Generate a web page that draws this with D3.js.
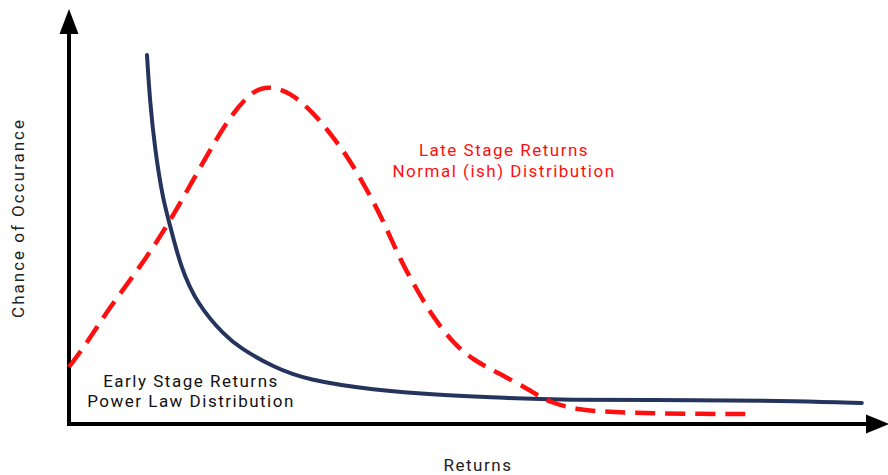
<!DOCTYPE html>
<html>
<head>
<meta charset="utf-8">
<script src="https://cdn.jsdelivr.net/npm/d3@7"></script>
<style>
  html, body { margin: 0; padding: 0; background: #fff; }
  svg { display: block; }
  text { font-family: Roboto, "Noto Sans", sans-serif; letter-spacing: 1.5px; }
</style>
</head>
<body>
<svg id="chart" width="888" height="475"></svg>
<script>
// ---- Data (returns on x: 0..100, chance of occurrence on y: 0..100) ----
const earlyReturns = [9.75, 10.1, 10.75, 11.75, 12.6, 13.9, 16, 19.5, 21.4, 25.5, 29.75, 38, 46.4, 54.75, 61, 78.9, 91.4, 99.1];
const earlyChance  = [92.75, 81.5, 69, 56.5, 50.5, 40, 30.5, 22.5, 19.5, 14.75, 11.5, 9, 7.75, 7, 6.5, 6.5, 6.25, 5.75];

const lateReturns = [0, 2.25, 5.1, 8.9, 12.6, 16.4, 20.1, 23, 25.1, 27.6, 30.5, 33, 35.1, 37.25, 39.25, 41.4, 43.5, 45.5, 48, 50.5, 53.9, 57.6, 60.1, 63.9, 67.6, 71.4, 78.9, 85.1];
const lateChance  = [14.75, 20.75, 29.75, 39.75, 51, 64.75, 77.5, 84, 85, 83.5, 78.5, 72.25, 66.5, 59, 51.5, 41.5, 34, 27.25, 20.75, 16.5, 13, 9, 5.75, 4, 3.5, 3.25, 3, 3];

const xAxisTitle = "Returns";
const yAxisTitle = "Chance of Occurance";
const earlyLabel = ["Early Stage Returns", "Power Law Distribution"];
const lateLabel  = ["Late Stage Returns", "Normal (ish) Distribution"];

// ---- Layout ----
const svg = d3.select("#chart");
const x = d3.scaleLinear().domain([0, 100]).range([69, 869]);
const y = d3.scaleLinear().domain([0, 100]).range([426, 26]);

const navy = "#25345c";
const red = "#ff0f0f";

// Axes with arrowheads
const axisY0 = 424;
svg.append("line")
  .attr("x1", x(0)).attr("y1", axisY0 + 2)
  .attr("x2", x(0)).attr("y2", 32)
  .attr("stroke", "#000").attr("stroke-width", 4);
svg.append("path")
  .attr("d", `M${x(0)},9 L${x(0) - 9.5},34 L${x(0) + 9.5},34 Z`)
  .attr("fill", "#000");

svg.append("line")
  .attr("x1", x(0) - 2).attr("y1", axisY0)
  .attr("x2", 870).attr("y2", axisY0)
  .attr("stroke", "#000").attr("stroke-width", 4);
svg.append("path")
  .attr("d", `M889,${axisY0} L866,${axisY0 - 9.5} L866,${axisY0 + 9.5} Z`)
  .attr("fill", "#000");

// Lines
const line = d3.line()
  .x(d => x(d[0]))
  .y(d => y(d[1]))
  .curve(d3.curveBasis);

const earlyData = earlyReturns.map((v, i) => [v, earlyChance[i]]);
const lateData = lateReturns.map((v, i) => [v, lateChance[i]]);

svg.append("path")
  .datum(earlyData)
  .attr("d", line)
  .attr("fill", "none")
  .attr("stroke", navy)
  .attr("stroke-width", 4)
  .attr("stroke-linecap", "round");

svg.append("path")
  .datum(lateData)
  .attr("d", line)
  .attr("fill", "none")
  .attr("stroke", red)
  .attr("stroke-width", 4.5)
  .attr("stroke-dasharray", "20,10");

// Titles
svg.append("text")
  .attr("x", 478).attr("y", 471)
  .attr("text-anchor", "middle")
  .attr("font-size", 17)
  .attr("fill", "#222")
  .text(xAxisTitle);

svg.append("text")
  .attr("transform", "translate(24,218) rotate(-90)")
  .attr("text-anchor", "middle")
  .attr("font-size", 17)
  .attr("fill", "#222")
  .style("letter-spacing", "2px")
  .text(yAxisTitle);

// Annotations
earlyLabel.forEach((t, i) => {
  svg.append("text")
    .attr("x", 191).attr("y", 387 + i * 20)
    .attr("text-anchor", "middle")
    .attr("font-size", 17)
    .attr("fill", "#111")
    .text(t);
});
lateLabel.forEach((t, i) => {
  svg.append("text")
    .attr("x", 504).attr("y", 156 + i * 21)
    .attr("text-anchor", "middle")
    .attr("font-size", 17)
    .attr("fill", red)
    .text(t);
});
</script>
</body>
</html>
